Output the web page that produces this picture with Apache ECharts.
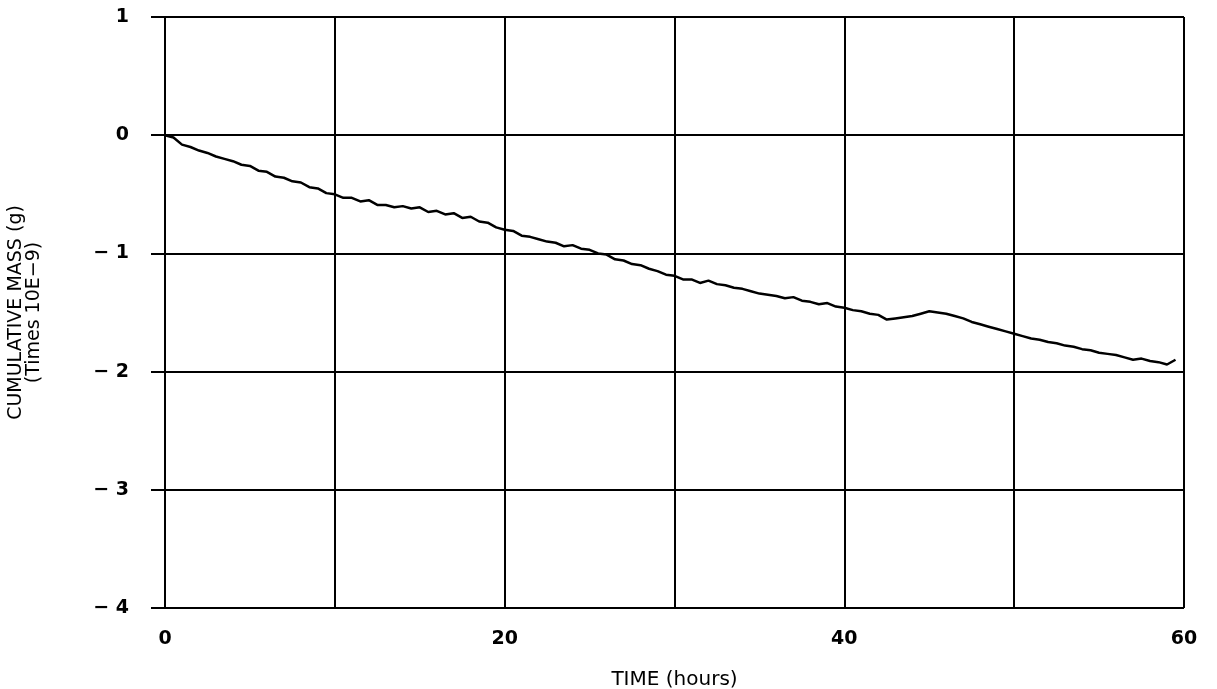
<!DOCTYPE html>
<html>
<head>
<meta charset="utf-8">
<title>Cumulative mass vs time</title>
<script src="https://cdn.jsdelivr.net/npm/echarts@6/dist/echarts.min.js"></script>
<style>
  html, body { margin: 0; padding: 0; background: #fff; }
  #chart { width: 1217px; height: 689px; }
</style>
</head>
<body>
<div id="chart"></div>
<script>
// time (hours), read every half hour off the trace
const timeHours = [
  0, 0.5, 1, 1.5, 2, 2.5, 3, 3.5, 4, 4.5, 5, 5.5, 6, 6.5, 7, 7.5, 8, 8.5, 9, 9.5,
  10, 10.5, 11, 11.5, 12, 12.5, 13, 13.5, 14, 14.5, 15, 15.5, 16, 16.5, 17, 17.5, 18, 18.5, 19, 19.5,
  20, 20.5, 21, 21.5, 22, 22.5, 23, 23.5, 24, 24.5, 25, 25.5, 26, 26.5, 27, 27.5, 28, 28.5, 29, 29.5,
  30, 30.5, 31, 31.5, 32, 32.5, 33, 33.5, 34, 34.5, 35, 35.5, 36, 36.5, 37, 37.5, 38, 38.5, 39, 39.5,
  40, 40.5, 41, 41.5, 42, 42.5, 43, 43.5, 44, 44.5, 45, 45.5, 46, 46.5, 47, 47.5, 48, 48.5, 49, 49.5,
  50, 50.5, 51, 51.5, 52, 52.5, 53, 53.5, 54, 54.5, 55, 55.5, 56, 56.5, 57, 57.5, 58, 58.5, 59, 59.5
]
// cumulative mass (times 10E-9 g)
const cumMass = [
  0, -0.02, -0.08, -0.1, -0.13, -0.15, -0.18, -0.2, -0.22, -0.25, -0.26, -0.3, -0.31, -0.35, -0.36, -0.39, -0.4, -0.44, -0.45, -0.49,
  -0.5, -0.53, -0.53, -0.56, -0.55, -0.59, -0.59, -0.61, -0.6, -0.62, -0.61, -0.65, -0.64, -0.67, -0.66, -0.7, -0.69, -0.73, -0.74, -0.78,
  -0.8, -0.81, -0.85, -0.86, -0.88, -0.9, -0.91, -0.94, -0.93, -0.96, -0.97, -1.0, -1.01, -1.05, -1.06, -1.09, -1.1, -1.13, -1.15, -1.18,
  -1.19, -1.22, -1.22, -1.25, -1.23, -1.26, -1.27, -1.29, -1.3, -1.32, -1.34, -1.35, -1.36, -1.38, -1.37, -1.4, -1.41, -1.43, -1.42, -1.45,
  -1.46, -1.48, -1.49, -1.51, -1.52, -1.56, -1.55, -1.54, -1.53, -1.51, -1.49, -1.5, -1.51, -1.53, -1.55, -1.58, -1.6, -1.62, -1.64, -1.66,
  -1.68, -1.7, -1.72, -1.73, -1.75, -1.76, -1.78, -1.79, -1.81, -1.82, -1.84, -1.85, -1.86, -1.88, -1.9, -1.89, -1.91, -1.92, -1.94, -1.9
]
const xLabelled = [0, 20, 40, 60]

const chart = echarts.init(document.getElementById('chart'))

const fontFam = 'DejaVu Sans'
const lineCol = '#000'

chart.setOption({
  backgroundColor: '#fff',
  animation: false,
  grid: { left: 165, right: 33, top: 17, bottom: 81, outerBoundsMode: 'none' },
  xAxis: {
    type: 'value',
    min: 0,
    max: 60,
    interval: 10,
    name: 'TIME (hours)',
    nameLocation: 'middle',
    nameGap: 62,
    nameTextStyle: { fontFamily: fontFam, fontSize: 20, color: lineCol },
    axisLine: { show: true, lineStyle: { color: lineCol, width: 2 } },
    axisTick: { show: true, length: 12, lineStyle: { color: lineCol, width: 2 } },
    splitLine: { show: true, lineStyle: { color: lineCol, width: 2 } },
    axisLabel: {
      margin: 22,
      fontFamily: fontFam,
      fontSize: 19,
      fontWeight: 'bold',
      color: lineCol,
      formatter: v => (xLabelled.indexOf(v) >= 0 ? String(v) : '')
    }
  },
  yAxis: {
    type: 'value',
    min: -4,
    max: 1,
    interval: 1,
    name: 'CUMULATIVE MASS (g)\n(Times 10E\u22129)',
    nameLocation: 'middle',
    nameGap: 122,
    nameTextStyle: { fontFamily: fontFam, fontSize: 19, lineHeight: 18, color: lineCol, align: 'center' },
    axisLine: { show: true, lineStyle: { color: lineCol, width: 2 } },
    axisTick: { show: true, length: 14, lineStyle: { color: lineCol, width: 2 } },
    splitLine: { show: true, lineStyle: { color: lineCol, width: 2 } },
    axisLabel: {
      margin: 36,
      fontFamily: fontFam,
      fontSize: 19,
      fontWeight: 'bold',
      color: lineCol,
      formatter: v => (v < 0 ? '\u2212 ' + Math.abs(v) : String(v))
    }
  },
  series: [
    {
      type: 'line',
      data: timeHours.map((t, i) => [t, cumMass[i]]),
      showSymbol: false,
      symbol: 'none',
      lineStyle: { color: lineCol, width: 2.5 },
      z: 5
    }
  ]
})
</script>
</body>
</html>
